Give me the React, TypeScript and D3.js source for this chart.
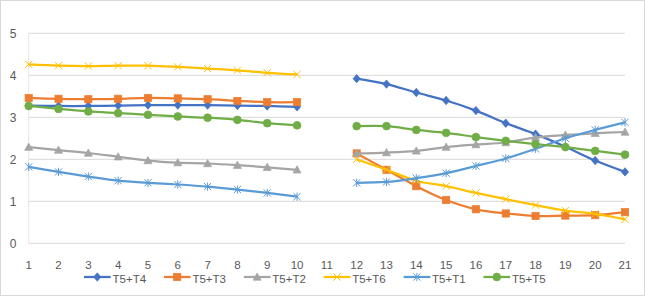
import React from "react";
import * as d3 from "d3";

const xValues = d3.range(1, 22);
const yTicks = [0, 1, 2, 3, 4, 5];

const seriesNames = ["T5+T4", "T5+T3", "T5+T2", "T5+T6", "T5+T1", "T5+T5"];
const seriesColors = ["#4472C4", "#ED7D31", "#A5A5A5", "#FFC000", "#5B9BD5", "#70AD47"];
const seriesMarkers = ["diamond", "square", "triangle", "x", "star", "circle"];

const t5t4 = [3.28, 3.27, 3.27, 3.28, 3.29, 3.29, 3.29, 3.28, 3.27, 3.25, null, 3.92, 3.79, 3.59, 3.4, 3.16, 2.86, 2.6, 2.3, 1.97, 1.7];
const t5t3 = [3.46, 3.44, 3.43, 3.44, 3.46, 3.45, 3.43, 3.39, 3.36, 3.36, null, 2.14, 1.75, 1.36, 1.03, 0.81, 0.71, 0.65, 0.66, 0.67, 0.74];
const t5t2 = [2.29, 2.22, 2.15, 2.06, 1.97, 1.92, 1.9, 1.86, 1.81, 1.75, null, 2.14, 2.16, 2.2, 2.29, 2.35, 2.4, 2.52, 2.58, 2.62, 2.65];
const t5t6 = [4.26, 4.23, 4.22, 4.23, 4.23, 4.2, 4.16, 4.12, 4.06, 4.02, null, 2.0, 1.75, 1.49, 1.36, 1.2, 1.05, 0.91, 0.78, 0.7, 0.57];
const t5t1 = [1.82, 1.7, 1.59, 1.49, 1.44, 1.4, 1.35, 1.28, 1.2, 1.11, null, 1.44, 1.46, 1.55, 1.67, 1.84, 2.02, 2.25, 2.5, 2.7, 2.88];
const t5t5 = [3.27, 3.2, 3.14, 3.1, 3.06, 3.02, 2.99, 2.94, 2.86, 2.81, null, 2.79, 2.79, 2.7, 2.63, 2.53, 2.44, 2.36, 2.29, 2.2, 2.11];

const seriesValues = [t5t4, t5t3, t5t2, t5t6, t5t1, t5t5];

const W = 648;
const H = 299;
const FONT = "'Liberation Sans', Arial, sans-serif";

function Marker({ type, x, y, color }: { type: string; x: number; y: number; color: string }) {
  const s = 3.6;
  if (type === "diamond") {
    return <path d={`M${x},${y - s - 0.6}L${x + s},${y}L${x},${y + s + 0.6}L${x - s},${y}Z`} fill={color} stroke={color} strokeWidth={0.75} />;
  }
  if (type === "square") {
    return <rect x={x - s} y={y - s} width={2 * s} height={2 * s} fill={color} stroke={color} strokeWidth={0.75} />;
  }
  if (type === "triangle") {
    return <path d={`M${x},${y - s - 0.4}L${x + s + 0.4},${y + s - 0.4}L${x - s - 0.4},${y + s - 0.4}Z`} fill={color} stroke={color} strokeWidth={0.75} />;
  }
  if (type === "circle") {
    return <circle cx={x} cy={y} r={s + 0.3} fill={color} stroke={color} strokeWidth={0.75} />;
  }
  if (type === "x") {
    return (
      <path d={`M${x - s},${y - s}L${x + s},${y + s}M${x - s},${y + s}L${x + s},${y - s}`} stroke={color} strokeWidth={1} fill="none" />
    );
  }
  return (
    <path
      d={`M${x - s},${y - s}L${x + s},${y + s}M${x - s},${y + s}L${x + s},${y - s}M${x},${y - s - 0.5}L${x},${y + s + 0.5}`}
      stroke={color}
      strokeWidth={1}
      fill="none"
    />
  );
}

export default function App() {
  const left = 28.7;
  const right = 625;
  const top = 33.3;
  const bottom = 243.3;

  const x = d3.scaleLinear().domain([1, 21]).range([left, right]);
  const y = d3.scaleLinear().domain([0, 5]).range([bottom, top]);

  const line = d3
    .line<number | null>()
    .defined((d) => d !== null)
    .x((_, i) => x(xValues[i]))
    .y((d) => y(d as number))
    .curve(d3.curveCatmullRom.alpha(0.5));

  const legendStart = 84;
  const legendStep = 79.9;
  const legendY = 277;

  return (
    <svg width={W} height={H} style={{ position: "absolute", left: 0, top: 0, background: "#fff" }} fontFamily={FONT}>
      <rect x={0.5} y={0.5} width={644} height={295} fill="#fff" stroke="#d9d9d9" strokeWidth={1} />
      {yTicks.map((t) => (
        <line key={t} x1={left} x2={right} y1={y(t)} y2={y(t)} stroke="#d9d9d9" strokeWidth={1} />
      ))}
      <line x1={left} x2={left} y1={top} y2={bottom} stroke="#e6e6e6" strokeWidth={1} />
      {yTicks.map((t) => (
        <text key={t} x={13} y={y(t) + 4.2} textAnchor="middle" fontSize={12} fill="#595959">
          {t}
        </text>
      ))}
      {xValues.map((v) => (
        <text key={v} x={x(v)} y={269.2} textAnchor="middle" fontSize={11.5} fill="#595959">
          {v}
        </text>
      ))}
      {seriesValues.map((vals, si) => (
        <g key={si}>
          <path d={line(vals) || ""} fill="none" stroke={seriesColors[si]} strokeWidth={2.25} strokeLinejoin="round" />
          {vals.map((v, i) =>
            v === null ? null : <Marker key={i} type={seriesMarkers[si]} x={x(xValues[i])} y={y(v)} color={seriesColors[si]} />
          )}
        </g>
      ))}
      {seriesNames.map((name, si) => {
        const lx = legendStart + si * legendStep;
        return (
          <g key={name}>
            <line x1={lx} x2={lx + 26.7} y1={legendY} y2={legendY} stroke={seriesColors[si]} strokeWidth={2.25} />
            <Marker type={seriesMarkers[si]} x={lx + 13.3} y={legendY} color={seriesColors[si]} />
            <text x={lx + 28.5} y={282.6} fontSize={11.5} fill="#595959">
              {name}
            </text>
          </g>
        );
      })}
    </svg>
  );
}
